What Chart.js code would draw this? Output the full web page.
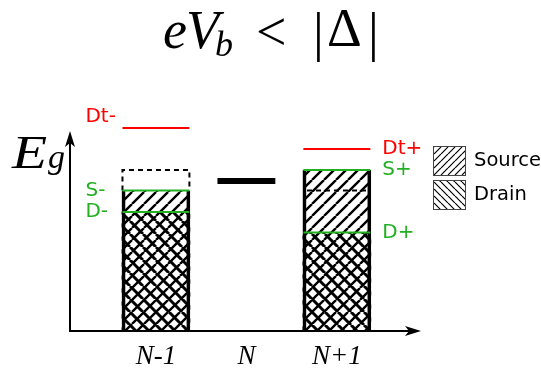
<!DOCTYPE html>
<html>
<head>
<meta charset="utf-8">
<script src="https://cdn.jsdelivr.net/npm/chart.js@4"></script>
<style>
  body { margin: 0; background: #fff; }
  #chart { display: block; }
</style>
</head>
<body>
<canvas id="chart" width="541" height="371"></canvas>
<script>
// charge states along the x axis
const categories = ["N-1", "N", "N+1"];
// energy levels (null = nothing drawn for that state)
const drainLevel = [59.5, null, 49.25];
const sourceLevel = [70.25, null, 80.5];
const ghostLevel = [80.5, null, 70.25];
const tipLevel = [101.5, null, 91];
const stateLevel = [null, 75, null];
// names written next to the levels
const drainNames = ["D-", "", "D+"];
const sourceNames = ["S-", "", "S+"];
const tipNames = ["Dt-", "", "Dt+"];
const seriesNames = ["Source", "Drain"];

const red = "#ff0000";
const green = "#22b022";
const serif = "'Liberation Serif', 'DejaVu Serif', serif";
const sans = "'DejaVu Sans', sans-serif";
const halfWidth = 0.37; // half of a bar, in x units
const stateHalfWidth = 0.32;

const canvas = document.getElementById("chart");
const mainCtx = canvas.getContext("2d");

// hatch pattern tile, "/" or "\"
const makeHatch = (dir, size, lineWidth) => {
  const tile = document.createElement("canvas");
  tile.width = size;
  tile.height = size;
  const c = tile.getContext("2d");
  c.strokeStyle = "#000";
  c.lineWidth = lineWidth;
  c.beginPath();
  for (let k = -1; k <= 1; k++) {
    if (dir === "/") {
      c.moveTo(k * size, size);
      c.lineTo(k * size + size, 0);
    } else {
      c.moveTo(k * size, 0);
      c.lineTo(k * size + size, size);
    }
  }
  c.stroke();
  return mainCtx.createPattern(tile, "repeat");
};

// horizontal segment per state, broken by a null point
const segments = (levels, half) => {
  const pts = [];
  levels.forEach((v, i) => {
    if (v === null) return;
    pts.push({ x: i - half, y: v }, { x: i + half, y: v }, { x: i, y: null });
  });
  return pts;
};

// dashed outline: a box above the source level, or a line inside it
const ghostPoints = [];
ghostLevel.forEach((v, i) => {
  if (v === null) return;
  if (v > sourceLevel[i]) {
    ghostPoints.push(
      { x: i - halfWidth, y: sourceLevel[i] },
      { x: i - halfWidth, y: v },
      { x: i + halfWidth, y: v },
      { x: i + halfWidth, y: sourceLevel[i] }
    );
  } else {
    ghostPoints.push({ x: i - halfWidth + 0.04, y: v }, { x: i + halfWidth - 0.04, y: v });
  }
  ghostPoints.push({ x: i, y: null });
});

const bars = (levels) =>
  levels.map((v, i) => (v === null ? null : { x: i, y: v })).filter((p) => p);

const lineStyle = { type: "line", pointRadius: 0, fill: false, spanGaps: false, tension: 0, clip: false, order: 0 };

// arrow head with its tip at (tx, ty)
const arrow = (ctx, tx, ty, angle) => {
  ctx.save();
  ctx.translate(tx, ty);
  ctx.rotate(angle);
  ctx.beginPath();
  ctx.moveTo(0, 0);
  ctx.lineTo(-16, -5);
  ctx.lineTo(-12, 0);
  ctx.lineTo(-16, 5);
  ctx.closePath();
  ctx.fill();
  ctx.restore();
};

const schematic = {
  id: "schematic",
  afterDatasetsDraw(chart) {
    const { ctx, chartArea: a, scales } = chart;
    const xs = scales.x;
    const ys = scales.y;
    ctx.save();
    // axes
    ctx.strokeStyle = "#000";
    ctx.fillStyle = "#000";
    ctx.lineWidth = 2;
    ctx.beginPath();
    ctx.moveTo(a.left - 1, a.bottom);
    ctx.lineTo(a.right - 10, a.bottom);
    ctx.moveTo(a.left, a.bottom + 1);
    ctx.lineTo(a.left, a.top + 10);
    ctx.stroke();
    arrow(ctx, a.right, a.bottom, 0);
    arrow(ctx, a.left, a.top, -Math.PI / 2);

    // level names
    ctx.font = "20px " + sans;
    ctx.textBaseline = "middle";
    const writeNames = (names, levels, color, leftLift) => {
      ctx.fillStyle = color;
      names.forEach((name, i) => {
        if (!name || levels[i] === null) return;
        const left = i < 1;
        const px = left ? xs.getPixelForValue(i - halfWidth) - 37 : xs.getPixelForValue(i + halfWidth) + 12;
        const py = ys.getPixelForValue(levels[i]) + (left ? leftLift : 0);
        ctx.textAlign = "left";
        ctx.fillText(name, px, py);
      });
    };
    writeNames(tipNames, tipLevel, red, -11);
    writeNames(sourceNames, sourceLevel, green, 0);
    writeNames(drainNames, drainLevel, green, 0);

    // legend
    const legendFill = { Source: makeHatch("/", 7, 1.2), Drain: makeHatch("\\", 7, 1.2) };
    seriesNames.forEach((name, k) => {
      const bx = 433;
      const by = 146 + k * 34;
      ctx.fillStyle = "#fff";
      ctx.fillRect(bx, by, 32, 29);
      ctx.fillStyle = legendFill[name];
      ctx.fillRect(bx, by, 32, 29);
      ctx.strokeStyle = "#444";
      ctx.lineWidth = 1;
      ctx.strokeRect(bx + 0.5, by + 0.5, 32, 29);
      ctx.fillStyle = "#000";
      ctx.font = "19.5px " + sans;
      ctx.textAlign = "left";
      ctx.textBaseline = "middle";
      ctx.fillText(name, bx + 41, by + 15);
    });

    // title  eV_b < |Δ|
    ctx.fillStyle = "#000";
    ctx.textAlign = "left";
    ctx.textBaseline = "alphabetic";
    ctx.font = "italic 54px " + serif;
    ctx.fillText("e", 163, 48);
    ctx.fillText("V", 186, 48);
    ctx.font = "italic 36px " + serif;
    ctx.fillText("b", 215, 56);
    ctx.font = "54px " + serif;
    ctx.fillText("<", 256, 50);
    ctx.fillText("|", 313, 50);
    ctx.fillText("\u0394", 327, 46);
    ctx.fillText("|", 368, 50);

    // axis name E_g
    ctx.save();
    ctx.translate(12, 168);
    ctx.scale(1.25, 1);
    ctx.font = "italic 46px " + serif;
    ctx.fillText("E", 0, 0);
    ctx.restore();
    ctx.font = "italic 34px " + serif;
    ctx.fillText("g", 48, 168);
    ctx.restore();
  },
};

new Chart(canvas, {
  type: "bar",
  data: {
    datasets: [
      { ...lineStyle, label: "Dt", data: segments(tipLevel, halfWidth), borderColor: red, borderWidth: 2 },
      { ...lineStyle, label: "S", data: segments(sourceLevel, halfWidth), borderColor: green, borderWidth: 2 },
      { ...lineStyle, label: "D", data: segments(drainLevel, halfWidth), borderColor: green, borderWidth: 2 },
      { ...lineStyle, label: "ghost", data: ghostPoints, borderColor: "#000", borderWidth: 2, borderDash: [5, 4] },
      { ...lineStyle, label: "N", data: segments(stateLevel, stateHalfWidth), borderColor: "#000", borderWidth: 6 },
      {
        label: seriesNames[1],
        data: bars(drainLevel),
        backgroundColor: makeHatch("\\", 13, 3),
        borderWidth: 0,
        grouped: false,
        barThickness: 68,
        order: 1,
      },
      {
        label: seriesNames[0],
        data: bars(sourceLevel),
        backgroundColor: makeHatch("/", 12, 2.4),
        borderColor: "#000",
        borderWidth: { left: 3, right: 3, top: 0, bottom: 0 },
        borderSkipped: false,
        grouped: false,
        barThickness: 68,
        order: 2,
      },
    ],
  },
  options: {
    responsive: false,
    maintainAspectRatio: false,
    animation: false,
    layout: { padding: { left: 70, right: 120, top: 131, bottom: 0 } },
    plugins: { legend: { display: false }, tooltip: { enabled: false } },
    scales: {
      x: {
        type: "linear",
        offset: false,
        min: -0.95,
        max: 2.93,
        grid: { display: false, drawTicks: false },
        border: { display: false },
        afterBuildTicks: (scale) => {
          scale.ticks = categories.map((_, i) => ({ value: i }));
        },
        afterFit: (scale) => {
          scale.height = 40;
        },
        ticks: {
          autoSkip: false,
          maxRotation: 0,
          padding: 10,
          color: "#000",
          font: { family: serif, style: "italic", size: 27 },
          callback: (value) => categories[value],
        },
      },
      y: { display: false, min: 0, max: 100 },
    },
  },
  plugins: [schematic],
});
</script>
</body>
</html>
